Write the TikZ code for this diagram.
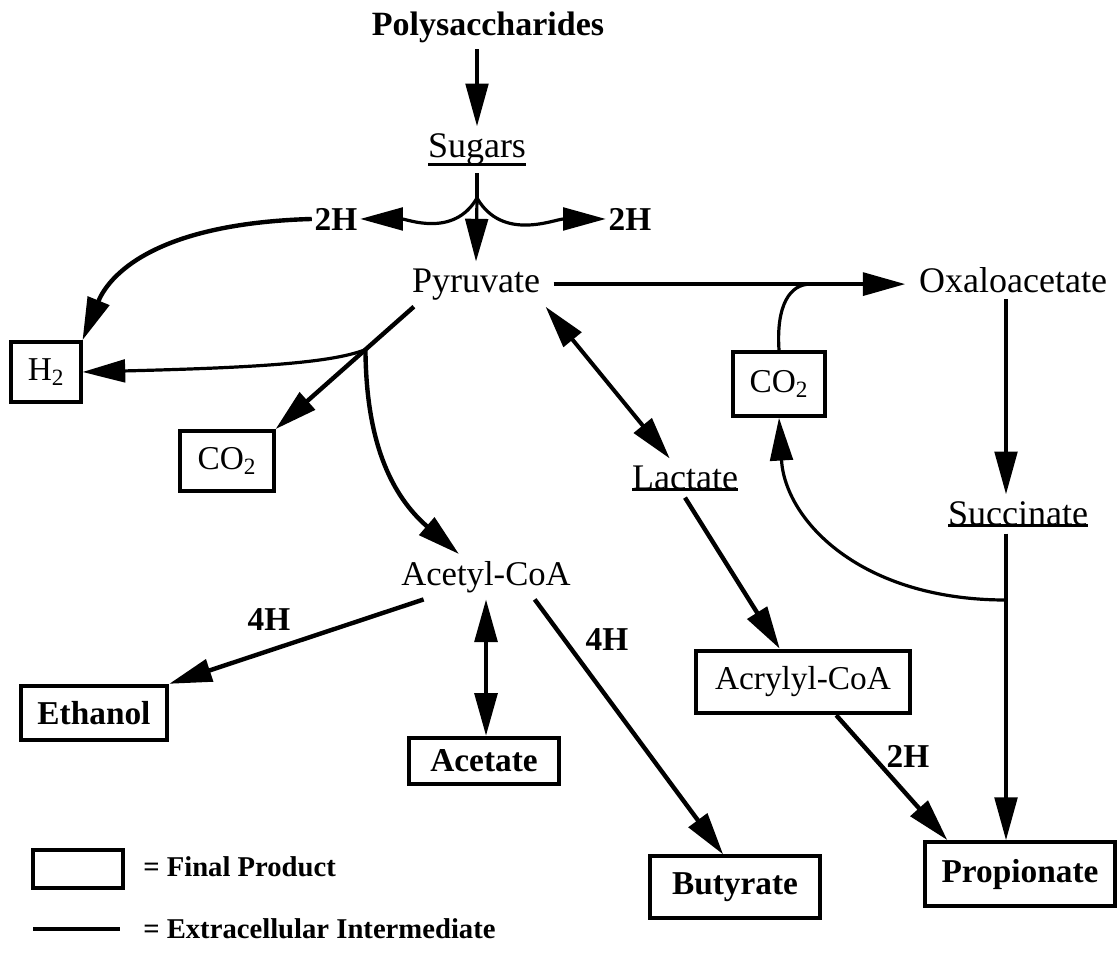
\documentclass[tikz,border=0pt]{standalone}
\usepackage{fontspec}
\setmainfont{Liberation Serif}
\usetikzlibrary{arrows.meta,calc}
\newcommand{\uword}[1]{\vtop{\hbox{#1}\kern-1pt\hrule height 2pt}}
\tikzset{
  txt/.style      = {font=\fontsize{27}{32}\selectfont, inner xsep=10pt, inner ysep=5pt, anchor=base},
  txtb/.style     = {txt, font=\fontsize{25.5}{30}\selectfont\bfseries},
  hh/.style       = {font=\fontsize{25}{30}\selectfont\bfseries, inner sep=2pt, anchor=base},
  prod/.style     = {draw, line width=2.8pt, inner sep=0pt, font=\fontsize{25}{30}\selectfont},
  prodb/.style    = {prod, font=\fontsize{25}{30}\selectfont\bfseries},
  leg/.style      = {font=\fontsize{21.5}{25}\selectfont\bfseries, anchor=west, inner sep=0pt},
  flow/.style     = {line width=3.3pt, -{Triangle[length=32pt,width=17pt]}},
  flowthin/.style = {line width=2.4pt, -{Triangle[length=32pt,width=17pt]}},
  both/.style     = {line width=3pt, {Triangle[length=32pt,width=17pt]}-{Triangle[length=32pt,width=17pt]}},
  plain/.style    = {line width=2.4pt},
}

\begin{document}
\begin{tikzpicture}[x=0.75pt,y=-0.75pt]
  \useasboundingbox (0,0) rectangle (1119,960);

  % metabolites
  \node[txtb] (poly)   at (488,35)  {Polysaccharides};
  \node[txt]  (sugars) at (477,157) {\uword{Sugars}};
  \node[txt]  (pyr)    at (476,292) {Pyruvate};
  \node[txt]  (oxa)    at (1013,292) {Oxaloacetate};
  \node[txt]  (lac)    at (685,489) {\uword{Lactate}};
  \node[txt]  (succ)   at (1018,525) {\uword{Succinate}};
  \node[txt, font=\fontsize{26}{30}\selectfont] (acoa) at (486,585) {Acetyl-CoA};

  % reducing equivalents
  \node[hh] (lhh) at (336,230) {2H};
  \node[hh] (rhh) at (630,230) {2H};
  \node[hh] (hha) at (269,630) {4H};
  \node[hh] (hhb) at (607,650) {4H};
  \node[hh] (hhc) at (908,767) {2H};

  % final products
  \node[prod,  minimum width=52pt,  minimum height=45pt] (h2)   at (46,372)   {H\textsubscript{2}};
  \node[prod,  minimum width=70pt,  minimum height=45pt] (co2a) at (227,461)  {CO\textsubscript{2}};
  \node[prod,  minimum width=69pt,  minimum height=48pt] (co2b) at (779,384)  {CO\textsubscript{2}};
  \node[prod,  minimum width=160pt, minimum height=47pt] (acry) at (803,682)  {Acrylyl-CoA};
  \node[prodb, minimum width=110pt, minimum height=41pt] (eth)  at (94,713)   {Ethanol};
  \node[prodb, minimum width=112pt, minimum height=35pt] (acet) at (484,761)  {Acetate};
  \node[prodb, minimum width=128pt, minimum height=46pt] (but)  at (735,887)  {Butyrate};
  \node[prodb, minimum width=143pt, minimum height=48pt] (prop) at (1020,874) {Propionate};

  % branch points
  \coordinate (j1) at (477,198);
  \coordinate (j2) at ($(pyr.-160)!0.35!(co2a.north east)$);
  \coordinate (j3) at ($(pyr.east)!0.73!(pyr.east -| oxa.west)$);
  \coordinate (j4) at (1006,600);

  % sugars to pyruvate
  \draw[flowthin] (poly.south -| sugars.north) -- (sugars.north);
  \draw[plain] (sugars.south) -- (j1);
  \draw[flowthin] (j1) -- (pyr.north);
  \draw[flowthin] (j1) to[out=-120, in=0] (lhh.east);
  \draw[flowthin] (j1) to[out=-60, in=180] (rhh.west);
  \draw[flow] (lhh.west) .. controls (140,224) and (105,285) .. (h2.north east);

  % pyruvate branches
  \draw[flow] (pyr.east) -- (pyr.east -| oxa.west);
  \draw[flow] (pyr.-160) -- (co2a.north east);
  \draw[flowthin] (j2) .. controls (330,364) and (240,368) .. (h2.east);
  \draw[flow] (j2) .. controls (366,430) and (385,490) .. (acoa.140);
  \draw[both] (pyr.-18) -- (lac.128);

  % succinate pathway
  \draw[plain] (co2b.north) .. controls (776,305) and (790,284) .. (j3);
  \draw[flowthin] (oxa.south -| j4) -- (succ.north -| j4);
  \draw[flowthin] (succ.south -| j4) -- (prop.north -| j4);
  \draw[flowthin] (j4) .. controls (860,600) and (785,520) .. (co2b.south);

  % acrylate pathway
  \draw[flow] (lac.south) -- (acry.125);
  \draw[flow] (acry.-45) -- (prop.155);

  % acetyl-CoA products
  \draw[flow] (acoa.-160) -- (eth.north east);
  \draw[both] (acoa.south) -- (acoa.south |- acet.north);
  \draw[flow] (acoa.-25) -- (but.110);

  % legend
  \node[prod, minimum width=67pt, minimum height=28pt] (legbox) at (78,869) {};
  \node[leg] (legfp) at (143,867) {= Final Product};
  \coordinate (lega) at (33,929);
  \coordinate (legb) at (120,929);
  \draw[line width=3pt] (lega) -- (legb);
  \node[leg] (legei) at (143,929) {= Extracellular Intermediate};
\end{tikzpicture}
\end{document}
